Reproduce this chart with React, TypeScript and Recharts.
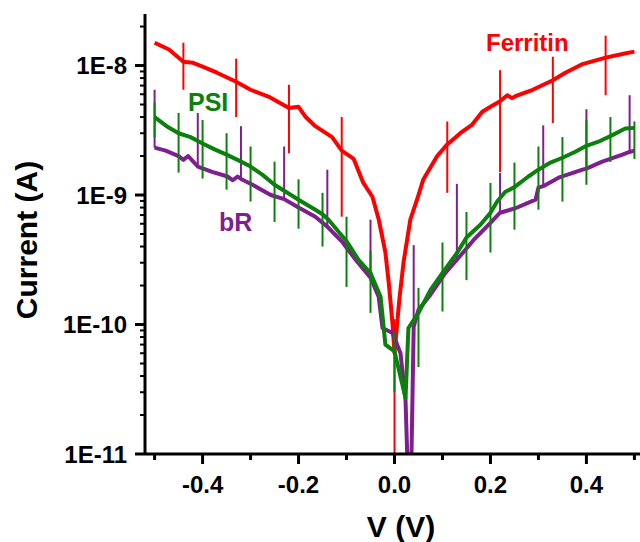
import { ComposedChart, Line, XAxis, YAxis, ErrorBar } from "recharts";

// Ferritin (red)
const ferritinV = [
  -0.5, -0.47, -0.44, -0.42, -0.4, -0.37, -0.33, -0.3, -0.26, -0.22, -0.2, -0.185, -0.165, -0.13,
  -0.11, -0.085, -0.065, -0.046, -0.033, -0.019, -0.012, -0.004, 0, 0.01, 0.019, 0.033, 0.05,
  0.06, 0.089, 0.11, 0.137, 0.162, 0.183, 0.2, 0.22, 0.235, 0.245, 0.252, 0.288, 0.33, 0.356,
  0.39, 0.44, 0.48, 0.5,
];
const ferritinI = [
  1.5e-8, 1.33e-8, 1.07e-8, 1.05e-8, 9.8e-9, 8.8e-9, 7.5e-9, 6.5e-9, 5.7e-9, 4.7e-9, 4.8e-9, 4.0e-9,
  3.4e-9, 2.8e-9, 2.2e-9, 1.9e-9, 1.24e-9, 9.7e-10, 6.5e-10, 3.6e-10, 2.1e-10, 1.0e-10, 6e-11,
  1.55e-10, 3.05e-10, 6.45e-10, 1.0e-9, 1.32e-9, 2.0e-9, 2.46e-9, 3.0e-9, 3.5e-9, 4.4e-9, 4.8e-9,
  5.3e-9, 5.9e-9, 5.6e-9, 5.8e-9, 6.5e-9, 7.7e-9, 8.8e-9, 1.02e-8, 1.15e-8, 1.24e-8, 1.28e-8,
];
const ferritinBarV = [-0.44, -0.33, -0.22, -0.11, 0, 0.11, 0.22, 0.33, 0.44];
const ferritinBarLo = [6.5e-9, 4.0e-9, 2.1e-9, 6.8e-10, 1.0e-11, 1.04e-9, 1.5e-9, 3.6e-9, 5.9e-9];
const ferritinBarHi = [1.5e-8, 1.13e-8, 7.1e-9, 4.0e-9, 1.1e-10, 3.7e-9, 9.2e-9, 1.17e-8, 1.7e-8];

// PSI (green)
const psiV = [
  -0.5, -0.475, -0.45, -0.425, -0.4, -0.375, -0.35, -0.325, -0.3, -0.275, -0.25, -0.2, -0.165,
  -0.15, -0.1375, -0.1, -0.075, -0.05, -0.029, -0.019, 0, 0.023, 0.029, 0.05, 0.075, 0.1, 0.131,
  0.15, 0.179, 0.2, 0.214, 0.231, 0.25, 0.279, 0.3, 0.325, 0.35, 0.377, 0.4, 0.425, 0.45, 0.481,
  0.5,
];
const psiI = [
  4.0e-9, 3.4e-9, 3.0e-9, 2.8e-9, 2.5e-9, 2.25e-9, 2.05e-9, 1.85e-9, 1.66e-9, 1.43e-9, 1.2e-9,
  9.2e-10, 7.7e-10, 7.1e-10, 6.45e-10, 4.4e-10, 3.16e-10, 2.5e-10, 1.64e-10, 7.0e-11, 6.2e-11,
  2.7e-11, 9.4e-11, 1.23e-10, 1.85e-10, 2.5e-10, 3.6e-10, 4.7e-10, 5.9e-10, 7.3e-10, 8.9e-10,
  1.06e-9, 1.15e-9, 1.39e-9, 1.57e-9, 1.78e-9, 1.94e-9, 2.16e-9, 2.4e-9, 2.58e-9, 2.85e-9,
  3.26e-9, 3.3e-9,
];
const psiBarV = [
  -0.5, -0.45, -0.4, -0.35, -0.3, -0.25, -0.2, -0.15, -0.1, -0.05, 0, 0.05, 0.1, 0.15, 0.2, 0.25,
  0.3, 0.35, 0.4, 0.45, 0.5,
];
const psiBarLo = [
  2.8e-9, 1.49e-9, 1.34e-9, 1.1e-9, 8.9e-10, 6.2e-10, 5.5e-10, 4.0e-10, 1.95e-10, 1.23e-10, 3.0e-11,
  4.7e-11, 1.26e-10, 2.2e-10, 3.6e-10, 5.4e-10, 7.7e-10, 8.9e-10, 1.2e-9, 1.8e-9, 1.9e-9,
];
const psiBarHi = [
  5.2e-9, 4.3e-9, 3.8e-9, 3.0e-9, 2.37e-9, 1.81e-9, 1.32e-9, 1.04e-9, 6.8e-10, 3.7e-10, 8.9e-11,
  1.92e-10, 4.3e-10, 7.4e-10, 1.24e-9, 1.78e-9, 2.37e-9, 2.8e-9, 3.8e-9, 4.0e-9, 3.7e-9,
];

// bR (purple)
const brV = [
  -0.5, -0.477, -0.45, -0.44, -0.43, -0.41, -0.38, -0.348, -0.337, -0.327, -0.32, -0.296, -0.258,
  -0.23, -0.2, -0.165, -0.14, -0.108, -0.081, -0.05, -0.033, -0.025, -0.004, 0.0125, 0.023, 0.029,
  0.034, 0.04, 0.05, 0.075, 0.106, 0.13, 0.165, 0.2, 0.22, 0.252, 0.294, 0.3, 0.31, 0.342, 0.392,
  0.4, 0.433, 0.475, 0.49, 0.5,
];
const brI = [
  2.32e-9, 2.2e-9, 2.0e-9, 1.87e-9, 2.0e-9, 1.66e-9, 1.51e-9, 1.39e-9, 1.3e-9, 1.39e-9, 1.33e-9,
  1.2e-9, 1.0e-9, 9.3e-10, 8.0e-10, 6.8e-10, 5.7e-10, 4.3e-10, 3.16e-10, 2.3e-10, 1.64e-10,
  9.4e-11, 8.6e-11, 6.0e-11, 2.6e-11, 5e-12, 5e-12, 9.6e-11, 1.3e-10, 1.7e-10, 2.5e-10, 3.16e-10,
  4.5e-10, 6.1e-10, 7.3e-10, 7.9e-10, 9.2e-10, 1.14e-9, 1.17e-9, 1.36e-9, 1.57e-9, 1.6e-9,
  1.81e-9, 2.05e-9, 2.15e-9, 2.2e-9,
];
const brBarV = [-0.5, -0.41, -0.32, -0.23, -0.14, -0.05, 0.04, 0.13, 0.22, 0.31, 0.4, 0.49];
const brBarHi = [
  6.5e-9, 4.3e-9, 3.4e-9, 2.37e-9, 1.57e-9, 6.45e-10, 4.1e-10, 1.22e-9, 1.48e-9, 3.45e-9, 4.6e-9,
  5.9e-9,
];

// axis ticks
const xMajor = [-0.4, -0.2, 0, 0.2, 0.4];
const xMinor = [-0.5, -0.3, -0.1, 0.1, 0.3, 0.5];
const yMajor = [1e-11, 1e-10, 1e-9, 1e-8];
const yMinorMult = [2, 3, 4, 5, 6, 7, 8, 9];

const RED = "#ff0000";
const GREEN = "#0c800c";
const PURPLE = "#7f1f8f";
const FONT = "'Liberation Sans', Arial, sans-serif";

type Pt = { v: number; i: number; err?: number[] };

// error bars sit on the line points whose V matches a bar position
function buildSeries(vs: number[], is: number[], barV: number[], barHi: number[], barLo?: number[]): Pt[] {
  return vs.map((v, k) => {
    const i = is[k];
    const b = barV.findIndex((x) => Math.abs(x - v) < 1e-9);
    if (b < 0) return { v, i };
    const lo = barLo ? barLo[b] : i;
    return { v, i, err: [i - lo, barHi[b] - i] };
  });
}

const ferritinData = buildSeries(ferritinV, ferritinI, ferritinBarV, ferritinBarHi, ferritinBarLo);
const psiData = buildSeries(psiV, psiI, psiBarV, psiBarHi, psiBarLo);
const brData = buildSeries(brV, brI, brBarV, brBarHi);

const xTicks = [...xMinor, ...xMajor].sort((a, b) => a - b);
const yTicks = [
  ...yMajor,
  ...yMajor.flatMap((d) => yMinorMult.map((m) => d * m)).filter((t) => t < 2.5e-8),
].sort((a, b) => a - b);

function YTick({ x, y, payload }: any) {
  const v = payload.value;
  const e = Math.log10(v);
  const major = Math.abs(e - Math.round(e)) < 1e-6;
  return (
    <g>
      <line x1={x - (major ? 10 : 5)} x2={x} y1={y} y2={y} stroke="#000" strokeWidth={major ? 3 : 2} />
      {major && (
        <text x={x - 18} y={y} textAnchor="end" dominantBaseline="central" fontSize={24} fontWeight="bold" fontFamily={FONT} fill="#000">
          {`1E${Math.round(e)}`}
        </text>
      )}
    </g>
  );
}

function XTick({ x, y, payload }: any) {
  const v = payload.value;
  const major = Math.abs(Math.round(v * 10)) % 2 === 0;
  return (
    <g>
      <line x1={x} x2={x} y1={y} y2={y + (major ? 10 : 6)} stroke="#000" strokeWidth={3} />
      {major && (
        <text x={x} y={y + 39} textAnchor="middle" fontSize={24} fontWeight="bold" fontFamily={FONT} fill="#000">
          {v.toFixed(1)}
        </text>
      )}
    </g>
  );
}

const axisLine = { stroke: "#000", strokeWidth: 3 };

export default function App() {
  return (
    <div style={{ position: "absolute", left: 0, top: 0, width: 640, height: 542, overflow: "hidden", background: "#fff" }}>
      <ComposedChart width={660} height={542} margin={{ top: 14, right: 16, bottom: 0, left: 0 }}>
        <XAxis
          dataKey="v"
          type="number"
          domain={[-0.52, 0.52]}
          allowDataOverflow
          ticks={xTicks}
          interval={0}
          tick={<XTick />}
          tickLine={false}
          tickSize={0}
          tickMargin={0}
          axisLine={axisLine}
          height={88}
        />
        <XAxis
          xAxisId="top"
          orientation="top"
          type="number"
          domain={[-0.52, 0.52]}
          tick={false}
          tickLine={false}
          axisLine={axisLine}
          height={0}
        />
        <YAxis
          type="number"
          scale="log"
          domain={[1e-11, 2.5e-8]}
          allowDataOverflow
          ticks={yTicks}
          interval={0}
          tick={<YTick />}
          tickLine={false}
          tickSize={0}
          tickMargin={0}
          axisLine={axisLine}
          width={145}
        />
        <Line data={ferritinData} dataKey="i" stroke={RED} strokeWidth={4} dot={false} isAnimationActive={false} strokeLinejoin="round">
          <ErrorBar dataKey="err" direction="y" width={0} stroke={RED} strokeWidth={2} />
        </Line>
        <Line data={brData} dataKey="i" stroke={PURPLE} strokeWidth={4} dot={false} isAnimationActive={false} strokeLinejoin="round">
          <ErrorBar dataKey="err" direction="y" width={0} stroke={PURPLE} strokeWidth={2} />
        </Line>
        <Line data={psiData} dataKey="i" stroke={GREEN} strokeWidth={4} dot={false} isAnimationActive={false} strokeLinejoin="round">
          <ErrorBar dataKey="err" direction="y" width={0} stroke={GREEN} strokeWidth={2} />
        </Line>
      </ComposedChart>
      <svg width={640} height={542} style={{ position: "absolute", left: 0, top: 0, pointerEvents: "none" }}>
        <g fontFamily={FONT} fontWeight="bold">
          <text x={486} y={51} fontSize={24} fill={RED}>Ferritin</text>
          <text x={188} y={111} fontSize={25} fill={GREEN}>PSI</text>
          <text x={219} y={231} fontSize={25} fill={PURPLE}>bR</text>
          <text x={401} y={537} fontSize={30} fill="#000" textAnchor="middle">V (V)</text>
          <text x={37} y={240} fontSize={30} fill="#000" textAnchor="middle" transform="rotate(-90 37 240)">Current (A)</text>
        </g>
      </svg>
    </div>
  );
}
